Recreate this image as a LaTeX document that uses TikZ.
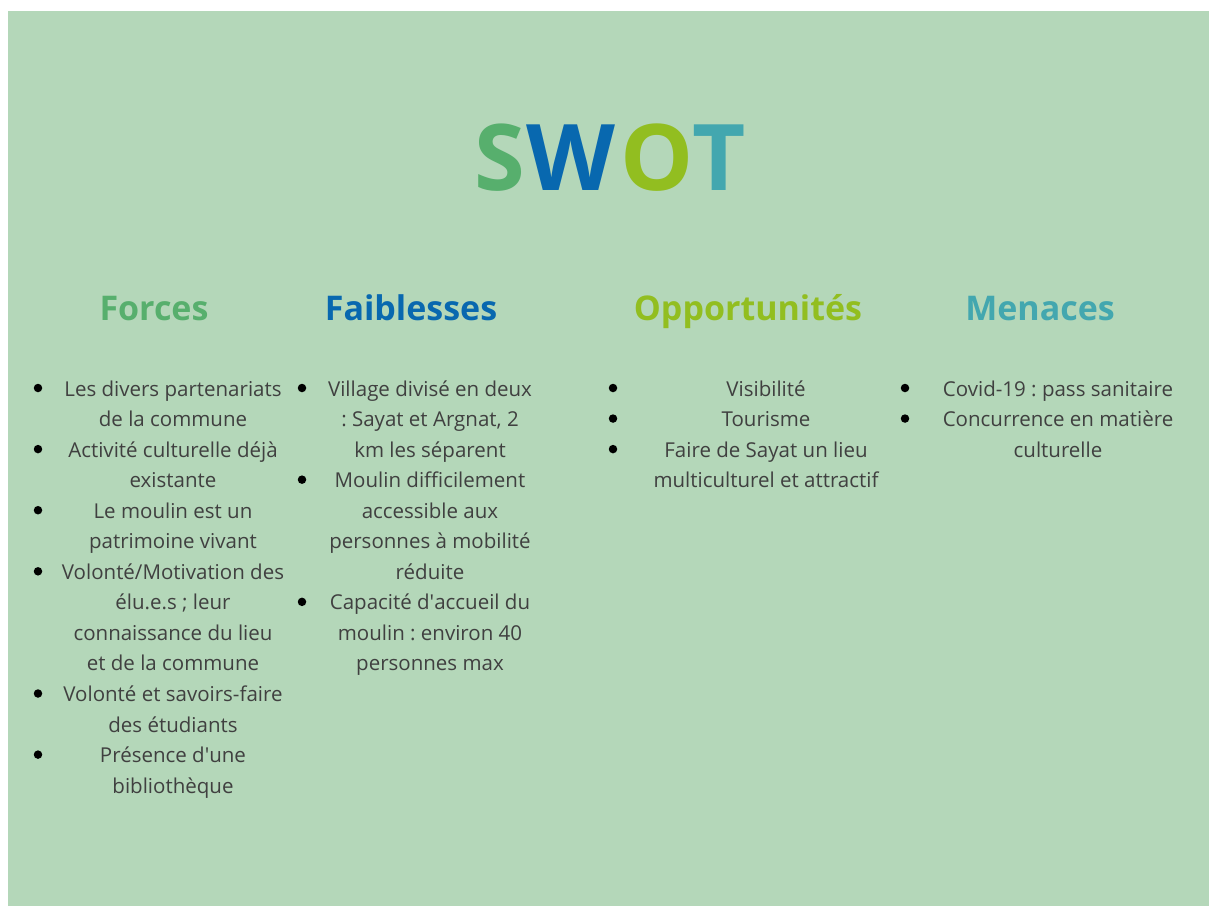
\documentclass[tikz,border=0pt]{standalone}
\usepackage{fontspec}
\setmainfont{Open Sans}
\definecolor{bg}{HTML}{B4D7B9}
\definecolor{cS}{HTML}{57AF6D}
\definecolor{cW}{HTML}{0868AF}
\definecolor{cO}{HTML}{92BE20}
\definecolor{cT}{HTML}{43A7AF}
\definecolor{txt}{HTML}{404040}
\frenchspacing
\newcommand\bodyfnt{\fontsize{20.5}{30}\selectfont}
\newcommand\headfnt{\fontsize{34}{40}\selectfont\bfseries}
\newcommand\ttlfnt{\fontsize{92}{100}\selectfont\bfseries}
\newcommand\apos{\textquotesingle}
\tikzset{
  body/.style={font=\bodyfnt, text=txt, anchor=base, inner sep=0pt},
  head/.style={font=\headfnt, anchor=base, inner sep=0pt},
  ttl/.style={font=\ttlfnt, anchor=base, inner sep=0pt},
  bul/.style={circle, fill=black, inner sep=0pt, minimum size=8.5pt},
}
\newcommand\Ly[1]{\fpeval{396+30.55*(#1-1)}}
\begin{document}
\begin{tikzpicture}[x=1pt,y=-1pt]
\useasboundingbox (0,0) rectangle (1209,906);
\fill[white] (0,0) rectangle (1209,906);
\fill[bg] (8,11) rectangle (1209,906);
% title
\node[ttl, text=cS] (tS) at (499.5,190) {S};
\node[ttl, text=cW] (tW) at (571,190) {W};
\node[ttl, text=cO] (tO) at (657.5,190) {O};
\node[ttl, text=cT] (tT) at (719.5,190) {T};
% headings
\node[head, text=cS] (hF) at (154,320) {Forces};
\node[head, text=cW] (hW) at (411,320) {Faiblesses};
\node[head, text=cO] (hO) at (748,320) {Opportunités};
\node[head, text=cT] (hT) at (1040,320) {Menaces};
% Forces
\foreach \n/\t in {1/{Les divers partenariats},2/{de la commune},3/{Activité culturelle déjà},4/{existante},5/{Le moulin est un},6/{patrimoine vivant},7/{Volonté/Motivation des},8/{élu.e.s ; leur},9/{connaissance du lieu},10/{et de la commune},11/{Volonté et savoirs-faire},12/{des étudiants},13/{Présence d\apos une},14/{bibliothèque}}
  \node[body] (F\n) at (173,\Ly{\n}) {\t};
\foreach \n in {1,3,5,7,11,13}
  \node[bul] (bF\n) at (38,\Ly{\n}-8) {};
% Faiblesses
\foreach \n/\t in {1/{Village divisé en deux},2/{: Sayat et Argnat, 2},3/{km les séparent},4/{Moulin difficilement},5/{accessible aux},6/{personnes à mobilité},7/{réduite},8/{Capacité d\apos accueil du},9/{moulin : environ 40},10/{personnes max}}
  \node[body] (W\n) at (430,\Ly{\n}) {\t};
\foreach \n in {1,4,8}
  \node[bul] (bW\n) at (302,\Ly{\n}-8) {};
% Opportunites
\foreach \n/\t in {1/{Visibilité},2/{Tourisme},3/{Faire de Sayat un lieu},4/{multiculturel et attractif}}
  \node[body] (O\n) at (766,\Ly{\n}) {\t};
\foreach \n in {1,2,3}
  \node[bul] (bO\n) at (613,\Ly{\n}-8) {};
% Menaces
\foreach \n/\t in {1/{Covid-19 : pass sanitaire},2/{Concurrence en matière},3/{culturelle}}
  \node[body] (T\n) at (1058,\Ly{\n}) {\t};
\foreach \n in {1,2}
  \node[bul] (bT\n) at (905,\Ly{\n}-8) {};
\end{tikzpicture}
\end{document}
